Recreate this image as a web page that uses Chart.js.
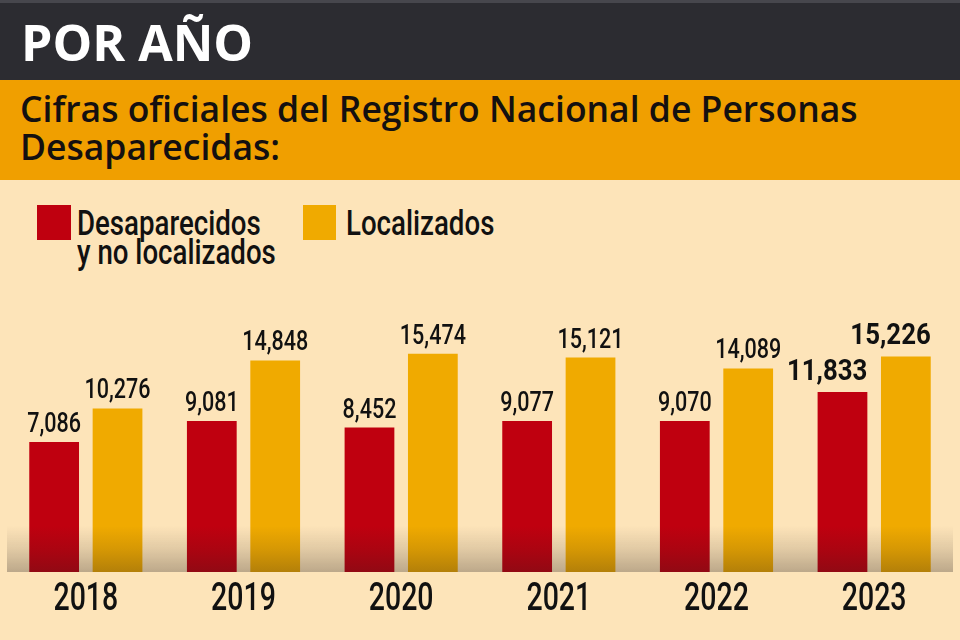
<!DOCTYPE html>
<html>
<head>
<meta charset="utf-8">
<script src="https://cdn.jsdelivr.net/npm/chart.js@4.4.1/dist/chart.umd.min.js"></script>
<style>
  html, body { margin:0; padding:0; }
  body { width:960px; height:640px; position:relative; overflow:hidden; background:#fde4b9; }
  #hdr { position:absolute; left:0; top:0; width:960px; height:80px; background:#2c2c31; border-top:3px solid #47474d; box-sizing:border-box; }
  #title { position:absolute; left:21px; top:17px; margin:0; font-family:"Open Sans", sans-serif; font-weight:700; font-size:50px; line-height:50px; color:#ffffff; white-space:nowrap; }
  #band { position:absolute; left:0; top:80px; width:960px; height:100px; background:#f09f00; }
  #sub { position:absolute; left:20px; top:90px; margin:0; font-family:"Open Sans", sans-serif; font-weight:600; font-size:35.5px; line-height:37.7px; color:#141010; white-space:nowrap; }
  .sw { position:absolute; top:205px; width:34px; height:35px; }
  .lt { position:absolute; top:210px; font-family:Roboto, sans-serif; font-weight:500; font-size:35px; line-height:28.5px; color:#111; white-space:nowrap; transform:scaleX(0.79); transform-origin:0 0; }
  #cv { position:absolute; left:0; top:180px; }
</style>
</head>
<body>
<div id="hdr"></div>
<div id="title">POR AÑO</div>
<div id="band"></div>
<div id="sub">Cifras oficiales del Registro Nacional de Personas<br>Desaparecidas:</div>
<div class="sw" style="left:37px;background:#bf000f"></div>
<div class="lt" style="left:77px">Desaparecidos<br>y no localizados</div>
<div class="sw" style="left:303px;width:33px;background:#f0aa00"></div>
<div class="lt" style="left:346px">Localizados</div>
<canvas id="cv" width="960" height="460"></canvas>
<script>
const years = ['2018', '2019', '2020', '2021', '2022', '2023'];
const desaparecidos = [7086, 9081, 8452, 9077, 9070, 11833];
const localizados = [10276, 14848, 15474, 15121, 14089, 15226];
const seriesNames = ['Desaparecidos y no localizados', 'Localizados'];
const highlightIndex = 5;

const Y_MIN = -5300, Y_MAX = 20600;
const FONT = 'Roboto, sans-serif';

function squeezedText(ctx, txt, x, y, align, sx) {
  ctx.save();
  ctx.translate(x, y);
  ctx.scale(sx, 1);
  ctx.textAlign = align;
  ctx.fillText(txt, 0, 0);
  ctx.restore();
}

const shadePlugin = {
  id: 'shade',
  afterDatasetsDraw(chart) {
    const { ctx, chartArea } = chart;
    const y0 = chartArea.bottom - 46, y1 = chartArea.bottom;
    const g = ctx.createLinearGradient(0, y0, 0, y1);
    g.addColorStop(0, 'rgba(40,30,30,0)');
    g.addColorStop(0.5, 'rgba(40,30,30,0.13)');
    g.addColorStop(1, 'rgba(40,30,30,0.3)');
    ctx.save();
    ctx.fillStyle = g;
    ctx.fillRect(chartArea.left, y0, chartArea.right - chartArea.left, y1 - y0);
    ctx.restore();
  }
};

const labelPlugin = {
  id: 'vals',
  afterDatasetsDraw(chart) {
    const { ctx } = chart;
    ctx.save();
    ctx.fillStyle = '#111111';
    ctx.textBaseline = 'alphabetic';
    chart.data.datasets.forEach((ds, di) => {
      const meta = chart.getDatasetMeta(di);
      meta.data.forEach((bar, i) => {
        const txt = ds.data[i].toLocaleString('en-US');
        if (i === highlightIndex) {
          ctx.font = 'bold 30px ' + FONT;
          squeezedText(ctx, txt, bar.x + bar.width / 2, bar.y - 12, 'right', 0.86);
        } else {
          ctx.font = '500 28px ' + FONT;
          squeezedText(ctx, txt, bar.x, bar.y - 10, 'center', 0.77);
        }
      });
    });
    // category (year) labels from the x scale
    const xs = chart.scales.x;
    ctx.font = '500 38px ' + FONT;
    xs.getLabels().forEach((lab, i) => {
      squeezedText(ctx, lab, xs.getPixelForValue(i), chart.chartArea.bottom + 38, 'center', 0.75);
    });
    ctx.restore();
  }
};

new Chart(document.getElementById('cv'), {
  type: 'bar',
  data: {
    labels: years,
    datasets: [
      { label: seriesNames[0], data: desaparecidos, backgroundColor: '#bf000f' },
      { label: seriesNames[1], data: localizados, backgroundColor: '#f0aa00' }
    ]
  },
  options: {
    responsive: false,
    animation: false,
    devicePixelRatio: 1,
    datasets: { bar: { base: Y_MIN, categoryPercentage: 0.804, barPercentage: 0.785, borderWidth: 0 } },
    layout: { padding: { top: 120, bottom: 68, left: 7, right: 7 } },
    plugins: { legend: { display: false }, tooltip: { enabled: false }, title: { display: false } },
    scales: {
      x: {
        grid: { display: false, drawTicks: false },
        border: { display: false },
        ticks: { display: false }
      },
      y: { display: false, min: Y_MIN, max: Y_MAX }
    }
  },
  plugins: [shadePlugin, labelPlugin]
});
</script>
</body>
</html>
